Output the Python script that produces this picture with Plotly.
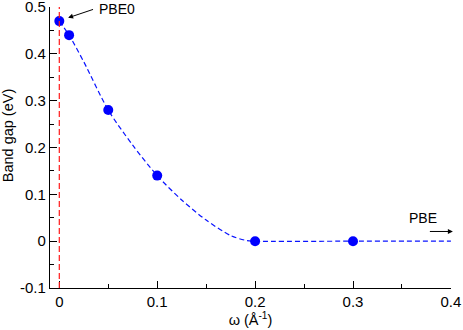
import plotly.graph_objects as go

# computed band gaps
omega = [0.0, 0.01, 0.05, 0.1, 0.2, 0.3]
band_gap = [0.47, 0.44, 0.28, 0.14, 0.0, 0.0]

# smooth fit curve
fit_omega = [0.0, 0.01, 0.025, 0.05, 0.075, 0.1, 0.125, 0.15, 0.175, 0.19, 0.2, 0.3, 0.4]
fit_gap = [0.47, 0.44, 0.383, 0.28, 0.205, 0.14, 0.088, 0.045, 0.012, 0.002, 0.0, 0.0, 0.0]

pbe0_omega = 0.0

x_ticks = [0.0, 0.1, 0.2, 0.3, 0.4]
x_labels = ["0", "0.1", "0.2", "0.3", "0.4"]
y_ticks = [-0.1, 0.0, 0.1, 0.2, 0.3, 0.4, 0.5]
y_labels = ["-0.1", "0", "0.1", "0.2", "0.3", "0.4", "0.5"]

FONT = "Liberation Sans, Arial, Helvetica, sans-serif"

fig = go.Figure()

fig.add_vline(x=pbe0_omega, line_width=1.2, line_dash="6px,3px", line_color="#ff1a1a")

fig.add_trace(
    go.Scatter(
        x=fit_omega,
        y=fit_gap,
        mode="lines",
        line={"color": "#0a14ff", "width": 1.2, "dash": "5px,3px", "shape": "spline", "smoothing": 0.8},
        hoverinfo="skip",
        showlegend=False,
    )
)
fig.add_trace(
    go.Scatter(
        x=omega,
        y=band_gap,
        mode="markers",
        marker={"size": 10, "color": "#0000ff"},
        cliponaxis=False,
        showlegend=False,
    )
)

# labels with arrows
fig.add_annotation(
    x=0.009, y=0.477, ax=0.036, ay=0.496,
    xref="x", yref="y", axref="x", ayref="y",
    text="", showarrow=True, arrowhead=2, arrowsize=1, arrowwidth=1, arrowcolor="black",
)
fig.add_annotation(
    x=0.038, y=0.496, xref="x", yref="y", text="PBE0", showarrow=False,
    xanchor="left", yanchor="middle", font={"size": 14, "family": FONT, "color": "black"},
)
fig.add_annotation(
    x=0.402, y=0.0207, ax=0.377, ay=0.0207,
    xref="x", yref="y", axref="x", ayref="y",
    text="", showarrow=True, arrowhead=2, arrowsize=1, arrowwidth=1, arrowcolor="black",
)
fig.add_annotation(
    x=0.372, y=0.049, xref="x", yref="y", text="PBE", showarrow=False,
    xanchor="center", yanchor="middle", font={"size": 14, "family": FONT, "color": "black"},
)
fig.add_annotation(
    x=-0.105, y=0.226, xref="paper", yref="y", text="Band gap (eV)", showarrow=False,
    textangle=-90, xanchor="center", yanchor="middle",
    font={"size": 14.5, "family": FONT, "color": "black"},
)

fig.update_layout(
    width=463,
    height=330,
    margin={"l": 50, "r": 12, "t": 7, "b": 42},
    paper_bgcolor="white",
    plot_bgcolor="white",
    font={"family": FONT, "size": 15, "color": "black"},
    showlegend=False,
    xaxis={
        "range": [-0.0095, 0.4001],
        "tickvals": x_ticks,
        "ticktext": x_labels,
        "ticks": "inside",
        "ticklen": 7,
        "tickwidth": 1,
        "tickcolor": "black",
        "ticklabeloverflow": "allow",
        "automargin": False,
        "minor": {"dtick": 0.05, "tick0": 0, "ticks": "inside", "ticklen": 4, "tickcolor": "black", "showgrid": False},
        "showline": True,
        "linecolor": "black",
        "linewidth": 1.3,
        "showgrid": False,
        "zeroline": False,
        "title": {"text": "ω (Å<sup>-1</sup>)", "standoff": 4, "font": {"size": 14.5}},
    },
    yaxis={
        "range": [-0.1, 0.5001],
        "tickvals": y_ticks,
        "ticktext": y_labels,
        "ticks": "inside",
        "ticklen": 7,
        "tickwidth": 1,
        "tickcolor": "black",
        "ticklabeloverflow": "allow",
        "automargin": False,
        "minor": {"dtick": 0.05, "tick0": 0, "ticks": "inside", "ticklen": 4, "tickcolor": "black", "showgrid": False},
        "showline": True,
        "linecolor": "black",
        "linewidth": 1.3,
        "showgrid": False,
        "zeroline": False,
    },
)

fig.write_html(
    "out.html",
    config={"displayModeBar": False},
    post_script="document.body.style.margin='0';",
)
